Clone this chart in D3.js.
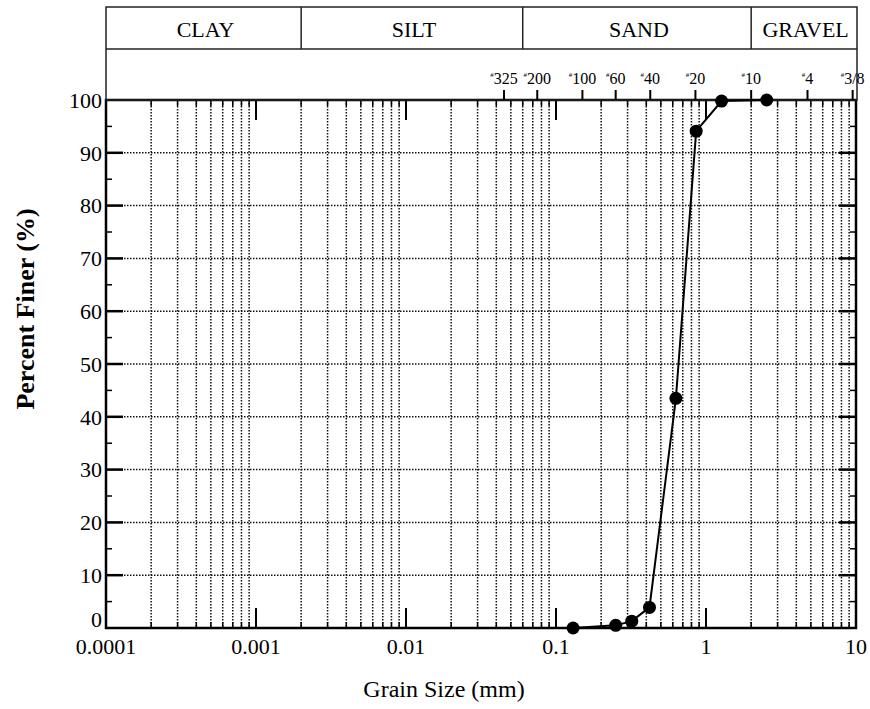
<!DOCTYPE html>
<html>
<head>
<meta charset="utf-8">
<script src="https://cdn.jsdelivr.net/npm/d3@7.9.0/dist/d3.min.js"></script>
<style>
  body { margin: 0; background: #fff; }
  text { font-family: "Liberation Serif", "Times New Roman", serif; fill: #000; }
</style>
</head>
<body>
<svg width="870" height="709"></svg>
<script>
// soil classes along the top band (bounds in mm)
const categories = ['CLAY', 'SILT', 'SAND', 'GRAVEL'];
const categoryBounds = [0.0001, 0.002, 0.06, 2, 10];

// sieve numbers and their openings (mm)
const sieveLabels = ['325', '200', '100', '60', '40', '20', '10', '4', '3/8'];
const sieveSizes = [0.045, 0.075, 0.15, 0.25, 0.425, 0.85, 2.0, 4.75, 9.5];

// grading curve
const grainSize = [0.13, 0.25, 0.32, 0.42, 0.63, 0.86, 1.27, 2.54];
const percentFiner = [0, 0.5, 1.3, 3.9, 43.5, 94.1, 99.8, 100];

const xTickValues = [0.0001, 0.001, 0.01, 0.1, 1, 10];
const xTickLabels = ['0.0001', '0.001', '0.01', '0.1', '1', '10'];
const yTickValues = [0, 10, 20, 30, 40, 50, 60, 70, 80, 90, 100];
const yMinorValues = [5, 15, 25, 35, 45, 55, 65, 75, 85, 95];

const svg = d3.select('svg');
const pL = 106, pR = 856, pT = 100, pB = 628;

const x = d3.scaleLog().domain([0.0001, 10]).range([pL, pR]);
const y = d3.scaleLinear().domain([0, 100]).range([pB, pT]);

// log minor lines (2..9 of each decade)
const isDecade = d => Math.abs(Math.log10(d) - Math.round(Math.log10(d))) < 1e-9;
const minorX = x.ticks().filter(d => !isDecade(d));
const decadeX = xTickValues.slice(1, -1);

const grid = svg.append('g');

// vertical dotted grid
grid.selectAll('.vgrid')
  .data(minorX)
  .join('line')
  .attr('x1', d => x(d)).attr('x2', d => x(d))
  .attr('y1', pT).attr('y2', pB)
  .attr('stroke', '#111')
  .attr('stroke-width', 1.5)
  .attr('stroke-dasharray', '1.5,1.5');

// horizontal dotted grid
grid.selectAll('.hgrid')
  .data(yTickValues.slice(1, -1))
  .join('line')
  .attr('x1', pL).attr('x2', pR)
  .attr('y1', d => y(d)).attr('y2', d => y(d))
  .attr('stroke', '#111')
  .attr('stroke-width', 1.5)
  .attr('stroke-dasharray', '1.5,1.5');

// inner ticks
const ticks = svg.append('g').attr('stroke', '#000');
[pT, pB].forEach(edge => {
  const dir = edge === pT ? 1 : -1;
  ticks.selectAll(null).data(minorX).join('line')
    .attr('x1', d => x(d)).attr('x2', d => x(d))
    .attr('y1', edge).attr('y2', edge + dir * 6)
    .attr('stroke-width', 1.5);
  ticks.selectAll(null).data(decadeX).join('line')
    .attr('x1', d => x(d)).attr('x2', d => x(d))
    .attr('y1', edge).attr('y2', edge + dir * 20)
    .attr('stroke-width', 2);
});
[pL, pR].forEach(edge => {
  const dir = edge === pL ? 1 : -1;
  ticks.selectAll(null).data(yTickValues.slice(1, -1)).join('line')
    .attr('x1', edge).attr('x2', edge + dir * 17)
    .attr('y1', d => y(d)).attr('y2', d => y(d))
    .attr('stroke-width', 2.5);
  ticks.selectAll(null).data(yMinorValues).join('line')
    .attr('x1', edge).attr('x2', edge + dir * 6)
    .attr('y1', d => y(d)).attr('y2', d => y(d))
    .attr('stroke-width', 1.5);
});

// frame
svg.append('rect')
  .attr('x', pL).attr('y', pT)
  .attr('width', pR - pL).attr('height', pB - pT)
  .attr('fill', 'none').attr('stroke', '#000').attr('stroke-width', 2.5);

// header band
const bandTop = 7, bandMid = 49;
svg.append('rect')
  .attr('x', pL).attr('y', bandTop)
  .attr('width', pR - pL + 1).attr('height', pT - bandTop)
  .attr('fill', 'none').attr('stroke', '#222').attr('stroke-width', 1.5);
svg.append('line')
  .attr('x1', pL).attr('x2', pR + 1)
  .attr('y1', bandMid).attr('y2', bandMid)
  .attr('stroke', '#222').attr('stroke-width', 1.5);
svg.selectAll('.catdiv')
  .data(categoryBounds.slice(1, -1))
  .join('line')
  .attr('x1', d => x(d)).attr('x2', d => x(d))
  .attr('y1', bandTop).attr('y2', bandMid)
  .attr('stroke', '#222').attr('stroke-width', 1.5);
svg.selectAll('.cat')
  .data(categories)
  .join('text')
  .attr('x', (d, i) => (x(categoryBounds[i]) + x(categoryBounds[i + 1])) / 2 + 2)
  .attr('y', 37)
  .attr('text-anchor', 'middle')
  .attr('font-size', 22)
  .text(d => d);

// sieve ticks and labels
svg.selectAll('.sieve')
  .data(sieveSizes)
  .join('line')
  .attr('x1', d => x(d)).attr('x2', d => x(d))
  .attr('y1', pT - 10).attr('y2', pT)
  .attr('stroke', '#000').attr('stroke-width', 2);
const sl = svg.selectAll('.sievelabel')
  .data(sieveSizes)
  .join('text')
  .attr('x', d => x(d))
  .attr('y', 84)
  .attr('text-anchor', 'middle')
  .attr('font-size', 16);
sl.append('tspan').attr('font-size', 7).attr('dy', -7).text('#');
sl.append('tspan').attr('dy', 7).text((d, i) => sieveLabels[i]);

// tick labels
svg.selectAll('.ylab')
  .data(yTickValues)
  .join('text')
  .attr('x', pL - 4)
  .attr('y', d => y(d) - (d === 0 ? 9 : 0))
  .attr('dy', '0.35em')
  .attr('text-anchor', 'end')
  .attr('font-size', 22)
  .text(d => d);
svg.selectAll('.xlab')
  .data(xTickValues)
  .join('text')
  .attr('x', d => x(d))
  .attr('y', 654)
  .attr('text-anchor', 'middle')
  .attr('font-size', 22)
  .text((d, i) => xTickLabels[i]);

// axis titles
svg.append('text')
  .attr('x', 444).attr('y', 697)
  .attr('text-anchor', 'middle')
  .attr('font-size', 24)
  .text('Grain Size (mm)');
svg.append('text')
  .attr('transform', 'translate(34,309) rotate(-90)')
  .attr('text-anchor', 'middle')
  .attr('font-size', 26)
  .attr('font-weight', 'bold')
  .text('Percent Finer (%)');

// grading curve
const pts = grainSize.map((d, i) => [d, percentFiner[i]]);
svg.append('path')
  .datum(pts)
  .attr('d', d3.line().x(d => x(d[0])).y(d => y(d[1])))
  .attr('fill', 'none').attr('stroke', '#000').attr('stroke-width', 2);
svg.selectAll('.pt')
  .data(pts)
  .join('circle')
  .attr('cx', d => x(d[0])).attr('cy', d => y(d[1]))
  .attr('r', 6.5)
  .attr('fill', '#000');
</script>
</body>
</html>
